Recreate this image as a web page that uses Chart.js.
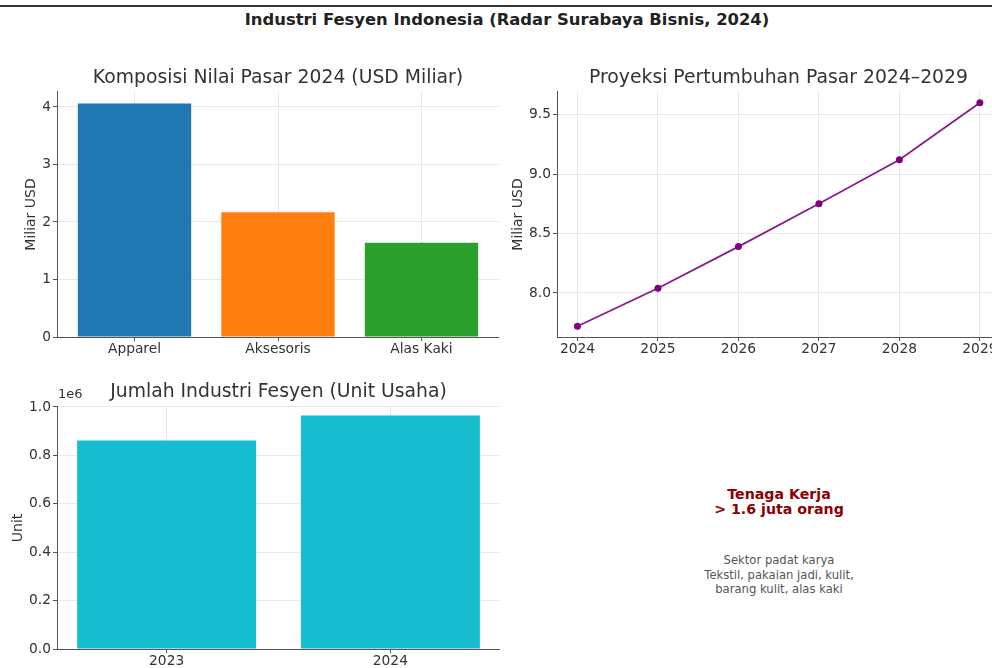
<!DOCTYPE html>
<html lang="id">
<head>
<meta charset="utf-8">
<title>Industri Fesyen Indonesia</title>
<script src="https://cdn.jsdelivr.net/npm/chart.js@4.4.1/dist/chart.umd.min.js"></script>
<style>
  html, body { margin: 0; padding: 0; background: #fff; overflow: hidden; }
  body { width: 992px; height: 668px; position: relative; font-family: "DejaVu Sans", sans-serif; }
  .garis-atas { position: absolute; left: 0; top: 5px; width: 992px; height: 2px; background: #333; }
  .judul { position: absolute; left: 0; top: 10px; width: 1014px; text-align: center; font-weight: bold; font-size: 16.4px; color: #222; line-height: 20px; }
  canvas { position: absolute; }
  #c1 { left: 0; top: 60px; }
  #c2 { left: 500px; top: 60px; }
  #c3 { left: 0; top: 370px; }
  .info { position: absolute; left: 629px; width: 300px; text-align: center; }
  .info-utama { top: 487px; font-weight: bold; font-size: 14.2px; line-height: 15px; color: #8b0000; }
  .info-kecil { top: 553px; font-size: 11.6px; line-height: 14.7px; color: #555; }
</style>
</head>
<body>
<div class="garis-atas"></div>
<div class="judul">Industri Fesyen Indonesia (Radar Surabaya Bisnis, 2024)</div>
<canvas id="c1" width="499" height="300"></canvas>
<canvas id="c2" width="530" height="300"></canvas>
<canvas id="c3" width="500" height="298"></canvas>
<div class="info info-utama">Tenaga Kerja<br>&gt; 1.6 juta orang</div>
<div class="info info-kecil">Sektor padat karya<br>Tekstil, pakaian jadi, kulit,<br>barang kulit, alas kaki</div>

<script>
// data
const kategoriPasar = ['Apparel', 'Aksesoris', 'Alas Kaki'];
const nilaiPasar = [4.06, 2.17, 1.64];

const tahunProyeksi = [2024, 2025, 2026, 2027, 2028, 2029];
const nilaiProyeksi = [7.72, 8.04, 8.39, 8.75, 9.12, 9.60];

const tahunUnit = ['2023', '2024'];
const jumlahUnit = [861000, 965000];

const FONT = '"DejaVu Sans", sans-serif';
const gridWarna = 'rgba(0,0,0,0.09)';
const sumbuWarna = '#555';
const ukuranTick = 13.8;

function judulPlot(teks, padTop, padBottom) {
  return {
    display: true, text: teks, fullSize: false, color: '#333',
    font: { family: FONT, size: 18.8, weight: 'normal' },
    padding: { top: padTop, bottom: padBottom },
  };
}

function skalaY(opts) {
  return {
    type: 'linear',
    min: opts.min, max: opts.max,
    z: opts.z || 0,
    afterFit: (s) => { s.width = 57; },
    title: { display: true, text: opts.judul, color: '#333', font: { family: FONT, size: 14 }, padding: { top: opts.titlePad, bottom: 0 } },
    ticks: { stepSize: opts.step, includeBounds: false, color: '#333', padding: 2, font: { family: FONT, size: ukuranTick }, callback: opts.format },
    grid: { color: gridWarna, tickColor: sumbuWarna, tickLength: 4 },
    border: { color: sumbuWarna, width: 1 },
  };
}

function skalaX(opts) {
  return {
    type: 'linear',
    min: opts.min, max: opts.max,
    offset: false,
    z: opts.z || 0,
    afterFit: (s) => { s.height = opts.tinggi; },
    ticks: { stepSize: 1, includeBounds: false, autoSkip: false, maxRotation: 0, color: '#333', padding: 0, font: { family: FONT, size: ukuranTick }, callback: opts.format },
    grid: { offset: false, color: gridWarna, tickColor: sumbuWarna, tickLength: 4 },
    border: { color: sumbuWarna, width: 1 },
  };
}

Chart.defaults.font.family = FONT;

// 1. komposisi nilai pasar
new Chart(document.getElementById('c1'), {
  type: 'bar',
  data: {
    datasets: [{
      data: nilaiPasar.map((v, i) => ({ x: i, y: v })),
      backgroundColor: ['#1f77b4', '#ff7f0e', '#2ca02c'],
      borderWidth: 0,
      categoryPercentage: 1,
      barPercentage: 0.79,
    }],
  },
  options: {
    responsive: false, animation: false, devicePixelRatio: 1,
    layout: { padding: 0 },
    plugins: { legend: { display: false }, tooltip: { enabled: false }, title: judulPlot('Komposisi Nilai Pasar 2024 (USD Miliar)', 6.7, 2.7) },
    scales: {
      x: skalaX({ min: -0.54, max: 2.54, tinggi: 23, z: 1, format: (v) => kategoriPasar[v] }),
      y: skalaY({ min: 0, max: 4.26, step: 1, z: 1, judul: 'Miliar USD', titlePad: 22.6, format: (v) => String(v) }),
    },
  },
});

// 2. proyeksi pertumbuhan (kanvas lebih lebar dari jendela, ujung kanan terpotong)
new Chart(document.getElementById('c2'), {
  type: 'line',
  data: {
    datasets: [{
      data: tahunProyeksi.map((t, i) => ({ x: t, y: nilaiProyeksi[i] })),
      borderColor: '#8b1a8b',
      backgroundColor: '#800080',
      borderWidth: 1.8,
      pointRadius: 3.5,
      pointBorderWidth: 0,
      tension: 0,
    }],
  },
  options: {
    responsive: false, animation: false, devicePixelRatio: 1,
    layout: { padding: { right: 30 } },
    plugins: { legend: { display: false }, tooltip: { enabled: false }, title: judulPlot('Proyeksi Pertumbuhan Pasar 2024\u20132029', 6.7, 2.7) },
    scales: {
      x: skalaX({ min: 2023.746, max: 2029.25, tinggi: 23, format: (v) => String(v) }),
      y: skalaY({ min: 7.63, max: 9.69, step: 0.5, judul: 'Miliar USD', titlePad: 9.6, format: (v) => v.toFixed(1) }),
    },
  },
});

// 3. jumlah unit usaha
const teks1e6 = {
  id: 'teks1e6',
  afterDraw(chart) {
    const { ctx, chartArea } = chart;
    ctx.save();
    ctx.font = '13px ' + FONT;
    ctx.fillStyle = '#333';
    ctx.textAlign = 'left';
    ctx.textBaseline = 'bottom';
    ctx.fillText('1e6', chartArea.left + 1, chartArea.top - 6);
    ctx.restore();
  },
};

new Chart(document.getElementById('c3'), {
  type: 'bar',
  data: {
    datasets: [{
      data: jumlahUnit.map((v, i) => ({ x: i, y: v })),
      backgroundColor: '#17becf',
      borderWidth: 0,
      categoryPercentage: 1,
      barPercentage: 0.8,
    }],
  },
  options: {
    responsive: false, animation: false, devicePixelRatio: 1,
    layout: { padding: 0 },
    plugins: { legend: { display: false }, tooltip: { enabled: false }, title: judulPlot('Jumlah Industri Fesyen (Unit Usaha)', 10.7, 3.7) },
    scales: {
      x: skalaX({ min: -0.49, max: 1.49, tinggi: 19, z: 1, format: (v) => tahunUnit[v] }),
      y: skalaY({ min: 0, max: 1000000, step: 200000, z: 1, judul: 'Unit', titlePad: 9.6, format: (v) => (v / 1e6).toFixed(1) }),
    },
  },
  plugins: [teks1e6],
});
</script>
</body>
</html>
